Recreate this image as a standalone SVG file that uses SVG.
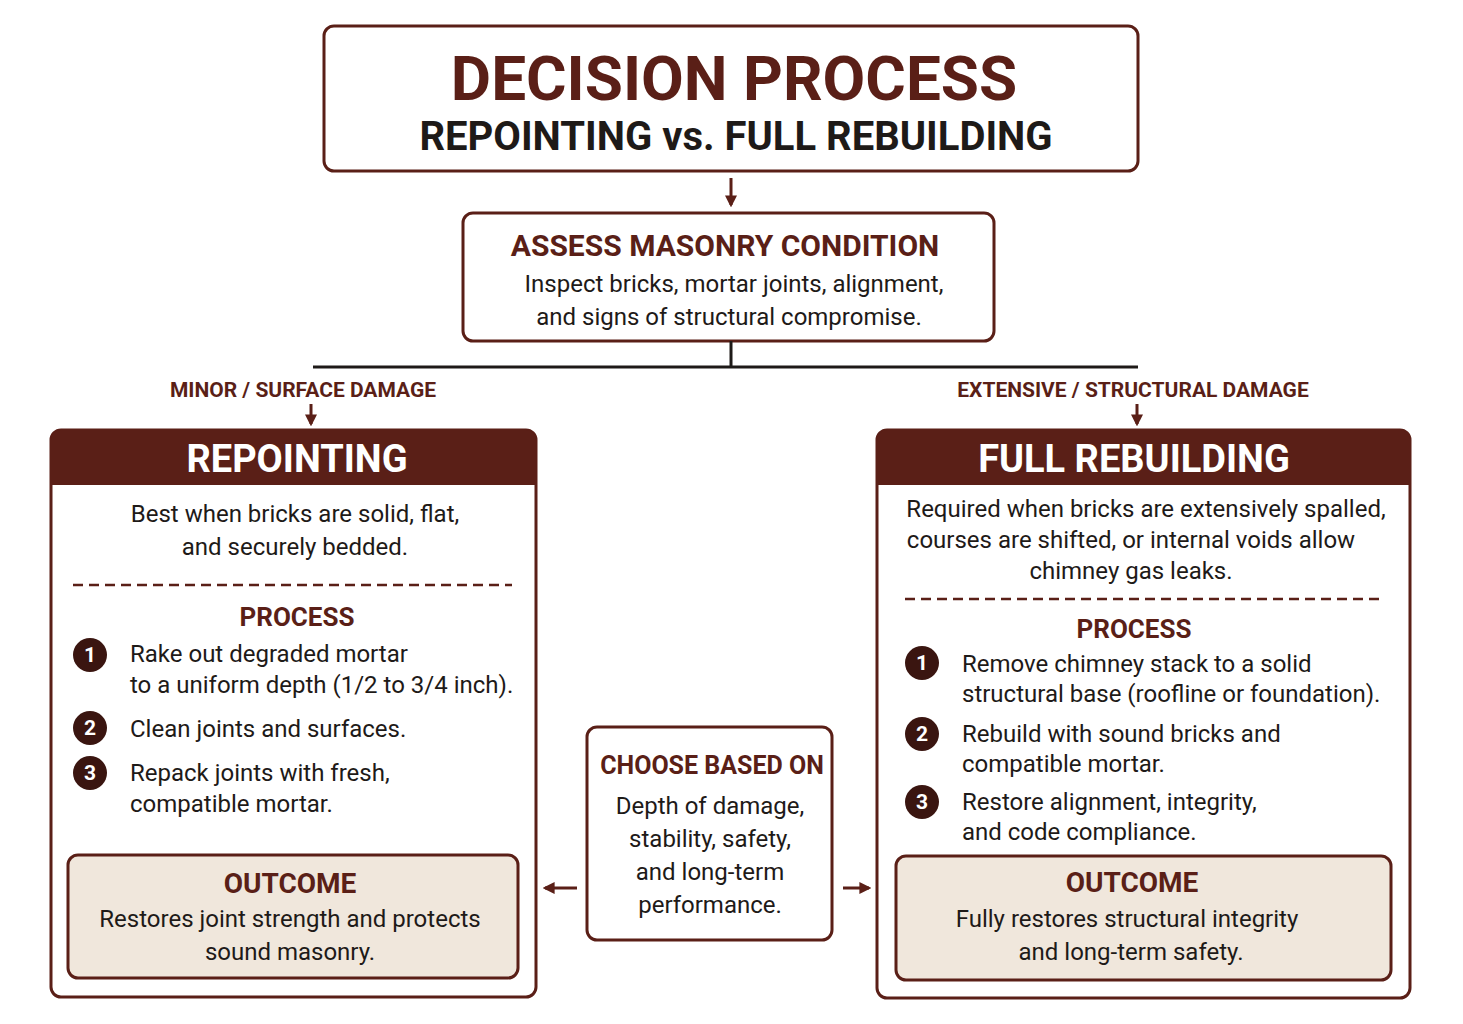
<svg xmlns="http://www.w3.org/2000/svg" width="1463" height="1024" viewBox="0 0 1463 1024">
<defs>
<style>
.b{fill:none;stroke:#5a1f17;stroke-width:3}
.t{font-family:Roboto,"Liberation Sans",sans-serif;fill:#5a1f17;font-weight:bold;text-anchor:middle}
.n{font-family:Roboto,"Liberation Sans",sans-serif;fill:#1e1a18;font-size:24px}
.c{text-anchor:middle}
.w{font-family:Roboto,"Liberation Sans",sans-serif;fill:#fff;font-weight:bold;text-anchor:middle;font-size:38px}
.num{font-family:Roboto,"Liberation Sans",sans-serif;fill:#fff;font-weight:bold;text-anchor:middle;font-size:21px}
.out{fill:#f0e7dc;stroke:#5a1f17;stroke-width:3}
.ln{stroke:#1e1a18;stroke-width:3;fill:none}
</style>
<marker id="ah" viewBox="0 0 10 10" refX="8" refY="5" markerWidth="4" markerHeight="4" orient="auto"><path d="M0,0L10,5L0,10z" fill="#5a1f17"/></marker>
</defs>
<rect width="1463" height="1024" fill="#fff"/>
<g id="title"><rect class="b" x="324" y="26" width="814" height="145" rx="10"/>
<text class="t" x="734" y="100" font-size="62" fill="#3a1510">DECISION PROCESS</text>
<text class="t" x="736" y="150" font-size="40" style="fill:#1e1a18">REPOINTING vs. FULL REBUILDING</text></g>
<g id="assess"><rect class="b" x="463" y="213" width="531" height="128" rx="10"/>
<text class="t" x="725" y="256" font-size="30">ASSESS MASONRY CONDITION</text>
<text class="n c" x="734" y="292" font-size="25">Inspect bricks, mortar joints, alignment,</text>
<text class="n c" x="729" y="325" font-size="25">and signs of structural compromise.</text></g>
<g id="connectors">
<line x1="731" y1="178" x2="731" y2="205" stroke="#5a1f17" stroke-width="3" marker-end="url(#ah)"/>
<path class="ln" d="M731,341V367M313,367H1138"/>
<line x1="311" y1="404" x2="311" y2="424" stroke="#5a1f17" stroke-width="3" marker-end="url(#ah)"/>
<line x1="1137" y1="404" x2="1137" y2="424" stroke="#5a1f17" stroke-width="3" marker-end="url(#ah)"/>
<line x1="577" y1="888" x2="545" y2="888" stroke="#5a1f17" stroke-width="3" marker-end="url(#ah)"/>
<line x1="843" y1="888" x2="869" y2="888" stroke="#5a1f17" stroke-width="3" marker-end="url(#ah)"/>
<text class="t" x="303" y="397" font-size="21">MINOR / SURFACE DAMAGE</text>
<text class="t" x="1133" y="397" font-size="21">EXTENSIVE / STRUCTURAL DAMAGE</text>
</g>
<g id="repointing">
<rect class="b" x="51" y="430" width="485" height="567" rx="10"/>
<path d="M51,485V440a10,10 0 0 1 10,-10H526a10,10 0 0 1 10,10V485z" fill="#5a1f17"/>
<text class="w" x="297" y="472">REPOINTING</text>
<text class="n c" x="295" y="522">Best when bricks are solid, flat,</text>
<text class="n c" x="295" y="555">and securely bedded.</text>
<line x1="73" y1="585" x2="512" y2="585" stroke="#5a1f17" stroke-width="2.5" stroke-dasharray="10,6"/>
<text class="t" x="297" y="626" font-size="26">PROCESS</text>
<circle cx="90" cy="655" r="17" fill="#3a1510"/><text class="num" x="90" y="662">1</text>
<circle cx="90" cy="728" r="17" fill="#3a1510"/><text class="num" x="90" y="735">2</text>
<circle cx="90" cy="773" r="17" fill="#3a1510"/><text class="num" x="90" y="780">3</text>
<text class="n" x="130" y="662" font-size="23">Rake out degraded mortar</text>
<text class="n" x="130" y="693" font-size="23">to a uniform depth (1/2 to 3/4 inch).</text>
<text class="n" x="130" y="737" font-size="23">Clean joints and surfaces.</text>
<text class="n" x="130" y="781" font-size="23">Repack joints with fresh,</text>
<text class="n" x="130" y="812" font-size="23">compatible mortar.</text>
<rect class="out" x="68" y="855" width="450" height="123" rx="10"/>
<text class="t" x="290" y="893" font-size="28">OUTCOME</text>
<text class="n c" x="290" y="927">Restores joint strength and protects</text>
<text class="n c" x="290" y="960">sound masonry.</text>
</g>
<g id="choose">
<rect class="b" x="587" y="727" width="245" height="213" rx="10"/>
<text class="t" x="712" y="774" font-size="25">CHOOSE BASED ON</text>
<text class="n c" x="710" y="814" font-size="25">Depth of damage,</text>
<text class="n c" x="710" y="847" font-size="25">stability, safety,</text>
<text class="n c" x="710" y="880" font-size="25">and long-term</text>
<text class="n c" x="710" y="913" font-size="25">performance.</text>
</g>
<g id="rebuilding">
<rect class="b" x="877" y="430" width="533" height="568" rx="10"/>
<path d="M877,485V440a10,10 0 0 1 10,-10H1400a10,10 0 0 1 10,10V485z" fill="#5a1f17"/>
<text class="w" x="1134" y="472">FULL REBUILDING</text>
<text class="n c" x="1146" y="517">Required when bricks are extensively spalled,</text>
<text class="n c" x="1131" y="548">courses are shifted, or internal voids allow</text>
<text class="n c" x="1131" y="579">chimney gas leaks.</text>
<line x1="905" y1="599" x2="1380" y2="599" stroke="#5a1f17" stroke-width="2.5" stroke-dasharray="10,6"/>
<text class="t" x="1134" y="638" font-size="26">PROCESS</text>
<circle cx="922" cy="663" r="17" fill="#3a1510"/><text class="num" x="922" y="670">1</text>
<circle cx="922" cy="734" r="17" fill="#3a1510"/><text class="num" x="922" y="741">2</text>
<circle cx="922" cy="802" r="17" fill="#3a1510"/><text class="num" x="922" y="809">3</text>
<text class="n" x="962" y="672" font-size="23">Remove chimney stack to a solid</text>
<text class="n" x="962" y="702" font-size="23">structural base (roofline or foundation).</text>
<text class="n" x="962" y="742" font-size="23">Rebuild with sound bricks and</text>
<text class="n" x="962" y="772" font-size="23">compatible mortar.</text>
<text class="n" x="962" y="810" font-size="23">Restore alignment, integrity,</text>
<text class="n" x="962" y="840" font-size="23">and code compliance.</text>
<rect class="out" x="896" y="856" width="495" height="124" rx="10"/>
<text class="t" x="1132" y="892" font-size="28">OUTCOME</text>
<text class="n c" x="1127" y="927">Fully restores structural integrity</text>
<text class="n c" x="1131" y="960">and long-term safety.</text>
</g>
</svg>
